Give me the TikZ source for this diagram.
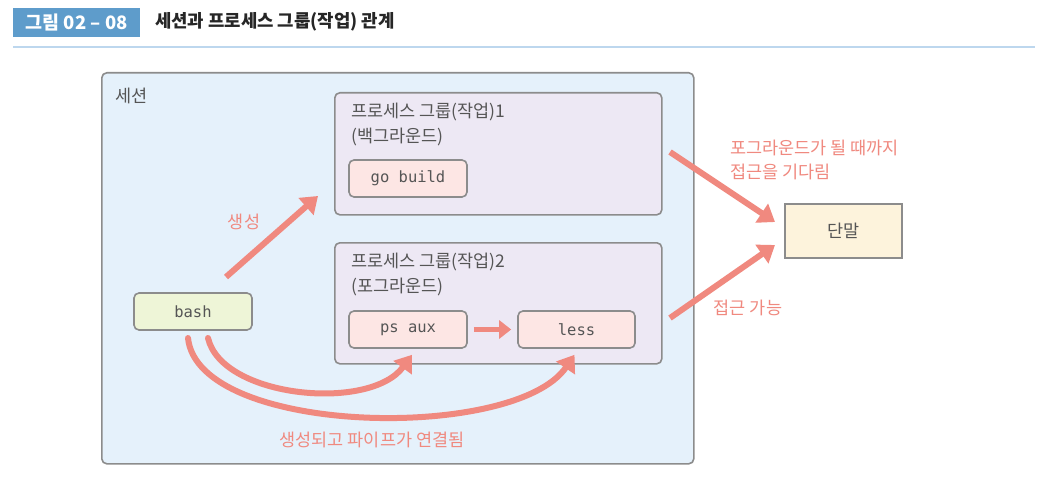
\documentclass[tikz,border=0pt]{standalone}
\usepackage{fontspec}
\setmainfont{Noto Sans CJK KR}
\setmonofont{DejaVu Sans Mono}
\usetikzlibrary{arrows.meta,positioning,calc}
\definecolor{titleblue}{HTML}{5E9CCB}
\definecolor{ruleblue}{HTML}{BDD7EE}
\definecolor{sessfill}{HTML}{E5F1FB}
\definecolor{grpfill}{HTML}{EDE8F4}
\definecolor{procfill}{HTML}{FDE6E4}
\definecolor{bashfill}{HTML}{EEF5D7}
\definecolor{termfill}{HTML}{FDF3DC}
\definecolor{boxline}{HTML}{8C8C8C}
\definecolor{txtgray}{HTML}{555555}
\definecolor{salmon}{HTML}{F0897F}
\tikzset{
  x=1pt,y=-1pt,
  sessbox/.style={draw=boxline,line width=1.6pt,fill=sessfill,rounded corners=5pt,anchor=north west,inner sep=0pt},
  grpbox/.style={draw=boxline,line width=1.6pt,fill=grpfill,rounded corners=5pt,anchor=north west,inner sep=0pt},
  procbox/.style={draw=boxline,line width=1.6pt,fill=procfill,rounded corners=5pt,minimum width=118pt,minimum height=37pt,font=\ttfamily\fontsize{15.5}{18}\selectfont,text=txtgray,inner sep=0pt},
  lbl/.style={text=txtgray,font=\fontsize{17.5}{20}\selectfont,anchor=west,inner sep=0pt},
  redlbl/.style={text=salmon,font=\fontsize{17.5}{20}\selectfont,inner sep=0pt},
  bigarrow/.style={draw=salmon,line width=6pt,-{Triangle[length=16pt,width=22pt]}},
}
\begin{document}
\begin{tikzpicture}
\useasboundingbox (0,0) rectangle (1045,487);
\fill[white] (0,0) rectangle (1045,487);
% title
\node[fill=titleblue,minimum width=127pt,minimum height=29pt,anchor=north west,inner sep=0pt,text=white,font=\bfseries\fontsize{18.5}{20}\selectfont] (tag) at (13,8) {그림 02 – 08};
\node[anchor=west,inner sep=0pt,font=\bfseries\fontsize{17.8}{20}\selectfont,text=black!85] (title) at (155,22) {세션과 프로세스 그룹(작업) 관계};
\coordinate (rulel) at (13,47);
\coordinate (ruler) at (1035,47);
\draw[ruleblue,line width=2pt] (rulel) -- (ruler);
% session
\node[sessbox,minimum width=592pt,minimum height=391pt] (sess) at (101,72) {};
\node[lbl] (sesslbl) at (115,96) {세션};
% group 1
\node[grpbox,minimum width=327pt,minimum height=122pt] (g1) at (334,92) {};
\node[lbl] (g1a) at (351,112) {프로세스 그룹(작업)1};
\node[lbl] (g1b) at (351,137) {(백그라운드)};
\node[procbox] (gob) at (408,178.5) {go build};
% group 2
\node[grpbox,minimum width=327pt,minimum height=121pt] (g2) at (334,242) {};
\node[lbl] (g2a) at (351,262) {프로세스 그룹(작업)2};
\node[lbl] (g2b) at (351,287) {(포그라운드)};
\node[procbox] (ps) at (408,329.5) {ps aux};
\node[procbox,minimum width=117pt] (less) at (576.5,329.5) {less};
% bash
\node[procbox,fill=bashfill] (bash) at (193,311.5) {bash};
% terminal
\node[draw=boxline,line width=1.6pt,fill=termfill,minimum width=117pt,minimum height=54pt,text=txtgray,font=\fontsize{17.5}{20}\selectfont,inner sep=0pt] (term) at (843.5,231) {단말};
% arrows
\draw[salmon,line width=5pt,-{Triangle[length=12pt,width=18pt]}] (ps.east) ++(6,0) coordinate (pse) -- ($(less.west)+(-6,0)$) coordinate (lw);
\coordinate (s1) at (226,277);
\coordinate (e1) at (318,196);
\draw[bigarrow] (s1) -- (e1);
\node[redlbl] (crt) at (244,222) {생성};
\coordinate (s2) at (670,152);
\coordinate (e2) at (775,222);
\draw[bigarrow] (s2) -- (e2);
\node[redlbl,anchor=west,align=left,font=\fontsize{17.5}{24}\selectfont] (wait) at (730,160) {포그라운드가 될 때까지\\접근을 기다림};
\coordinate (s3) at (670,318);
\coordinate (e3) at (775,245);
\draw[bigarrow] (s3) -- (e3);
\node[redlbl] (acc) at (748,308) {접근 가능};
% curves
\coordinate (c1s) at (188,338);
\coordinate (c2s) at (208,338);
\draw[salmon,line width=6pt,line cap=round,-{Triangle[length=16pt,width=22pt]}] (c1s) .. controls (198,436) and (515,442) .. ($(less.south)+(-2,6)$) coordinate (c1e);
\draw[salmon,line width=6pt,line cap=round,-{Triangle[length=16pt,width=22pt]}] (c2s) .. controls (222,398) and (370,412) .. ($(ps.south)+(4,6)$) coordinate (c2e);
\node[redlbl] (pipe) at (372,440) {생성되고 파이프가 연결됨};
\end{tikzpicture}
\end{document}
